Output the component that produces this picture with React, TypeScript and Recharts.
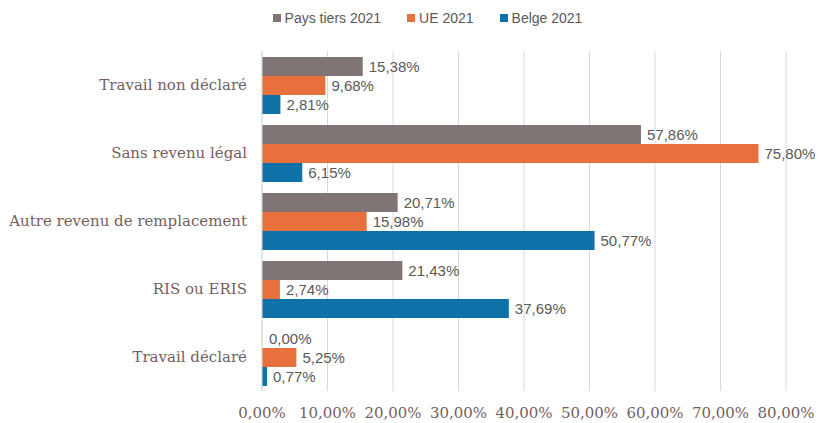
import { BarChart, Bar, XAxis, YAxis, CartesianGrid, Legend, LabelList, Cell } from "recharts";

const categories = [
  "Travail non déclaré",
  "Sans revenu légal",
  "Autre revenu de remplacement",
  "RIS ou ERIS",
  "Travail déclaré",
];
const paysTiers = [15.38, 57.86, 20.71, 21.43, 0.0];
const ue = [9.68, 75.8, 15.98, 2.74, 5.25];
const belge = [2.81, 6.15, 50.77, 37.69, 0.77];
const xTicks = [0, 10, 20, 30, 40, 50, 60, 70, 80];

const series = [
  { key: "paysTiers", name: "Pays tiers 2021", color: "#7f7575" },
  { key: "ue", name: "UE 2021", color: "#e8703d" },
  { key: "belge", name: "Belge 2021", color: "#0e72a9" },
];

const data = categories.map((name, i) => ({
  name,
  paysTiers: paysTiers[i],
  ue: ue[i],
  belge: belge[i],
}));

const pct = (v: number) => `${Number(v).toFixed(2).replace(".", ",")}%`;

const serif = "'DejaVu Serif', Georgia, serif";
const sans = "'Liberation Sans', Arial, sans-serif";

function LegendContent() {
  return (
    <div
      style={{
        display: "flex",
        justifyContent: "center",
        gap: 26,
        paddingLeft: 36,
        fontFamily: sans,
        fontSize: 14,
        color: "#595959",
      }}
    >
      {series.map((s) => (
        <div key={s.key} style={{ display: "flex", alignItems: "center" }}>
          <span style={{ width: 8, height: 8, background: s.color, marginRight: 4, display: "inline-block" }} />
          {s.name}
        </div>
      ))}
    </div>
  );
}

export default function App() {
  const labelStyle = { fill: "#595959", fontSize: 15, fontFamily: sans };
  return (
    <div style={{ position: "absolute", left: 0, top: 0, background: "#fff" }}>
      <BarChart
        width={819}
        height={423}
        data={data}
        layout="vertical"
        margin={{ top: 35, right: 33, bottom: 0, left: 0 }}
        barGap={0}
        barSize={19}
      >
        <CartesianGrid horizontal={false} stroke="#d9d9d9" />
        <XAxis
          type="number"
          domain={[0, 80]}
          ticks={xTicks}
          tickFormatter={pct}
          axisLine={false}
          tickLine={false}
          tickMargin={10}
          height={32}
          tick={{ fill: "#76605e", fontSize: 15, fontFamily: serif }}
        />
        <YAxis
          type="category"
          dataKey="name"
          width={262}
          axisLine={{ stroke: "#d9d9d9" }}
          tickLine={false}
          tickSize={0}
          tickMargin={15}
          tick={{ fill: "#76605e", fontSize: 15, fontFamily: serif }}
        />
        <Legend
          verticalAlign="top"
          align="center"
          wrapperStyle={{ top: 10, left: 0, width: 819 }}
          content={() => <LegendContent />}
        />
        {series.map((s) => (
          <Bar
            key={s.key}
            dataKey={s.key}
            name={s.name}
            fill={s.color}
            minPointSize={1}
            isAnimationActive={false}
          >
            {data.map((d, i) => (
              <Cell key={i} fillOpacity={(d as any)[s.key] === 0 ? 0 : 1} />
            ))}
            <LabelList dataKey={s.key} position="right" offset={6} formatter={pct} style={labelStyle} />
          </Bar>
        ))}
      </BarChart>
    </div>
  );
}
